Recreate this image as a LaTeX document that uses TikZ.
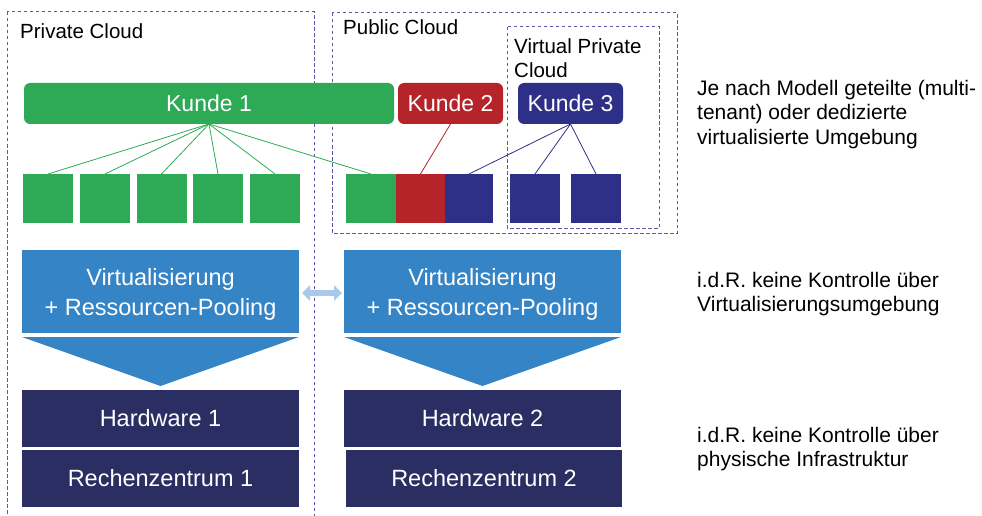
\documentclass[tikz,border=0pt]{standalone}
\usepackage{fontspec}
\setmainfont{Liberation Sans}
\usetikzlibrary{arrows.meta}
\definecolor{kgreen}{HTML}{2EAA57}
\definecolor{kred}{HTML}{B42428}
\definecolor{kblue}{HTML}{2E3087}
\definecolor{vblue}{HTML}{3584C6}
\definecolor{navy}{HTML}{2A2E62}
\definecolor{framecol}{HTML}{5A5AA8}
\definecolor{arrowblue}{HTML}{A9C9EA}
% lower a line of text without changing its reported size
\newcommand{\lowerline}[1]{\raisebox{-3pt}[\height][\depth]{#1}}
\begin{document}
\begin{tikzpicture}[x=1pt,y=-1pt,
  cloudframe/.style={draw=framecol, line width=1pt, dash pattern=on 3.5pt off 2.5pt},
  cloudlabel/.style={anchor=base west, inner sep=0, font=\fontsize{20.5}{24}\selectfont},
  kunde/.style={inner sep=0, outer sep=0, rounded corners=6pt, text=white,
    minimum height=41pt, font=\fontsize{23}{27}\selectfont},
  vm/.style={inner sep=0, outer sep=0, minimum width=50pt, minimum height=49pt},
  layer/.style={inner sep=0, outer sep=0, text=white, align=center,
    font=\fontsize{23.5}{30}\selectfont},
  link/.style={line width=0.8pt},
  note/.style={anchor=north west, inner sep=0, align=left,
    font=\fontsize{21}{24.5}\selectfont}]
\useasboundingbox (0,0) rectangle (982,516);
\clip (0,0) rectangle (982,516);

% cloud frames
\draw[cloudframe] (7,12) rectangle (314,540);
\draw[cloudframe] (332,13) rectangle (677,233);
\draw[cloudframe] (507,27) rectangle (659,228);
\node[cloudlabel] (lpriv) at (20,39) {Private Cloud};
\node[cloudlabel] (lpub) at (343,35) {Public Cloud};
\node[cloudlabel, align=left, anchor=north west] (lvpc) at (514,38) {Virtual Private\\Cloud};

% customers
\node[kunde, fill=kgreen, minimum width=370pt] (k1) at (209,103.5) {Kunde 1};
\node[kunde, fill=kred, minimum width=105pt] (k2) at (450.5,103.5) {Kunde 2};
\node[kunde, fill=kblue, minimum width=105pt] (k3) at (570.5,103.5) {Kunde 3};

% virtual machines
\node[vm, fill=kgreen] (g1) at (48,198.5) {};
\node[vm, fill=kgreen] (g2) at (105,198.5) {};
\node[vm, fill=kgreen] (g3) at (161.5,198.5) {};
\node[vm, fill=kgreen] (g4) at (218,198.5) {};
\node[vm, fill=kgreen] (g5) at (275,198.5) {};
\node[vm, fill=kgreen] (p1) at (371,198.5) {};
\node[vm, fill=kred, minimum width=49pt] (p2) at (420.5,198.5) {};
\node[vm, fill=kblue, minimum width=48pt] (p3) at (469,198.5) {};
\node[vm, fill=kblue] (b1) at (535,198.5) {};
\node[vm, fill=kblue] (b2) at (596,198.5) {};

% assignments
\foreach \t in {g1,g2,g3,g4,g5,p1}
  \draw[link, kgreen] (k1.south) -- (\t.north);
\draw[link, kred] (k2.south) -- (p2.north);
\foreach \t in {p3,b1,b2}
  \draw[link, kblue] (k3.south) -- (\t.north);

% virtualisation layers
\node[layer, fill=vblue, minimum width=277pt, minimum height=83pt] (v1) at (160.5,291.5)
  {\lowerline{Virtualisierung}\\\lowerline{+ Ressourcen-Pooling}};
\node[layer, fill=vblue, minimum width=277pt, minimum height=83pt] (v2) at (482.5,291.5)
  {\lowerline{Virtualisierung}\\\lowerline{+ Ressourcen-Pooling}};
\fill[vblue] ([yshift=-4pt]v1.south west) -- ([yshift=-4pt]v1.south east)
  -- ([yshift=-53pt]v1.south) -- cycle;
\fill[vblue] ([yshift=-4pt]v2.south west) -- ([yshift=-4pt]v2.south east)
  -- ([yshift=-53pt]v2.south) -- cycle;
\draw[arrowblue, line width=6pt,
  {Triangle[length=8pt,width=15pt]}-{Triangle[length=8pt,width=15pt]},
  shorten <=3pt, shorten >=2pt]
  ([yshift=-1.5pt]v1.east) -- ([yshift=-1.5pt]v2.west);

% physical layers
\node[layer, fill=navy, minimum width=277pt, minimum height=57pt] (h1) at (160.5,418.5) {Hardware 1};
\node[layer, fill=navy, minimum width=277pt, minimum height=57pt] (r1) at (160.5,478.5) {Rechenzentrum 1};
\node[layer, fill=navy, minimum width=277pt, minimum height=57pt] (h2) at (482.5,418.5) {Hardware 2};
\node[layer, fill=navy, minimum width=276pt, minimum height=57pt] (r2) at (484,478.5) {Rechenzentrum 2};

% annotations
\node[note] (n1) at (697,79.7) {Je nach Modell geteilte (multi-\\tenant) oder dedizierte\\virtualisierte Umgebung};
\node[note] (n2) at (697,271.7) {i.d.R. keine Kontrolle über\\Virtualisierungsumgebung};
\node[note] (n3) at (697,426.7) {i.d.R. keine Kontrolle über\\physische Infrastruktur};
\end{tikzpicture}
\end{document}
